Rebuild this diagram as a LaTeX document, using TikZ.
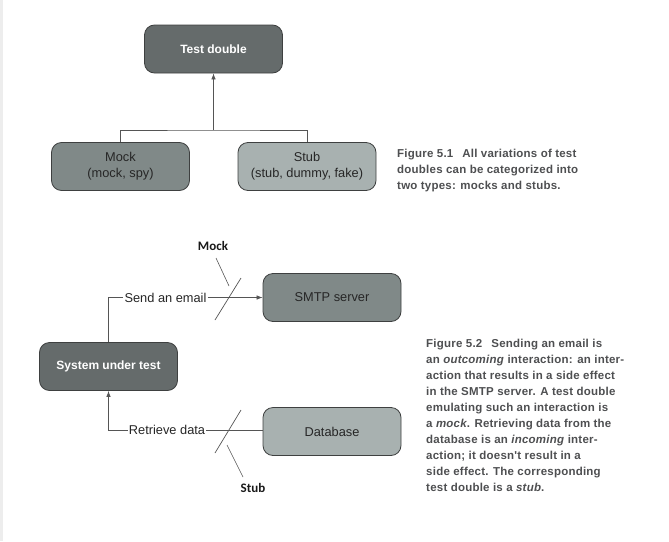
\documentclass[tikz,border=0pt]{standalone}
\usepackage{fontspec}
\setmainfont{Liberation Sans}
\newfontfamily\tagfont{Carlito}
\newfontfamily\capfont[LetterSpace=2]{Liberation Sans}
\usepackage{xcolor}
\usetikzlibrary{arrows.meta,positioning}

\definecolor{darkbox}{RGB}{101,107,107}
\definecolor{midbox}{RGB}{128,137,136}
\definecolor{lightbox}{RGB}{168,177,176}
\definecolor{boxline}{RGB}{62,64,64}
\definecolor{wirecolor}{RGB}{85,85,85}
\definecolor{captext}{RGB}{78,79,81}

\begin{document}
\begin{tikzpicture}[x=1pt,y=-1pt,
		box/.style={draw=boxline,line width=0.8pt,rounded corners=10pt,minimum width=138pt,minimum height=48pt,align=center,text=black!85,font=\fontsize{12.8}{16}\selectfont},
		darkbox/.style={box,fill=darkbox,text=white,font=\bfseries\fontsize{12}{15}\selectfont},
		midbox/.style={box,fill=midbox},
		lightbox/.style={box,fill=lightbox},
		wire/.style={draw=wirecolor,line width=0.7pt},
		arrowtip/.style={-{Latex[length=6pt,width=4.5pt]}},
		onwire/.style={fill=white,inner sep=1pt,font=\fontsize{12.8}{15}\selectfont,text=black!85},
		tag/.style={font=\tagfont\bfseries\fontsize{13}{15}\selectfont,text=black!90},
		capnode/.style={font=\capfont\bfseries\fontsize{11.5}{16}\selectfont,text=captext,align=left,inner sep=0pt,anchor=north west}]
		
			\useasboundingbox (0,0) rectangle (669,541);
			\fill[black!7] (0,0) rectangle (2.5,541);
			
			\node[darkbox] (test) at (213.5,49) {Test double};
			\node[midbox] (mock) at (120.5,166.5) {Mock\\(mock, spy)};
			\node[lightbox] (stub) at (307,166.5) {Stub\\(stub, dummy, fake)};
			
			\coordinate (fork) at (213.5,130);
			\draw[wire] (mock.north) |- (fork) -| (stub.north);
			\draw[wire,arrowtip] (fork) -- (test.south);
			
			\node[capnode] (cap1) at (397,148.5) {Figure 5.1\hspace{9pt}All variations of test\\doubles can be categorized into\\two types: mocks and stubs.};
			
			\node[darkbox] (sut) at (108.5,366.5) {System under test};
			\node[midbox] (smtp) at (332,297.5) {SMTP server};
			\node[lightbox] (db) at (332,431.5) {Database};
			
			\node[onwire] (email) at (165.5,297.5) {Send an email};
			\node[onwire] (fetch) at (167,430) {Retrieve data};
			
			\draw[wire] (sut.north) |- (email.west);
			\draw[wire,arrowtip] (email.east) -- (smtp.west);
			
			\draw[wire] (db.west |- fetch.east) -- (fetch.east);
			\draw[wire,arrowtip] (fetch.west) -| (sut.south);
			
			\draw[wire] (241,278) -- (215,320);
			\draw[wire] (241,410) -- (215,453);
			
			\node[tag] (mocktag) at (213,246) {Mock};
			\node[tag] (stubtag) at (253,488) {Stub};
			\draw[wire,line width=0.6pt] (216,258) -- (229,286);
			\draw[wire,line width=0.6pt] (227,445) -- (243,477);
			
			\node[capnode] (cap2) at (426,338.5) {Figure 5.2\hspace{9pt}Sending an email is\\
				an \textit{outcoming} interaction: an inter-\\
				action that results in a side effect\\
				in the SMTP server. A test double\\
				emulating such an interaction is\\
				a \textit{mock}. Retrieving data from the\\
				database is an \textit{incoming} inter-\\
				action; it doesn't result in a\\
				side effect. The corresponding\\
				test double is a \textit{stub}.};
		
		\end{tikzpicture}
\end{document}
